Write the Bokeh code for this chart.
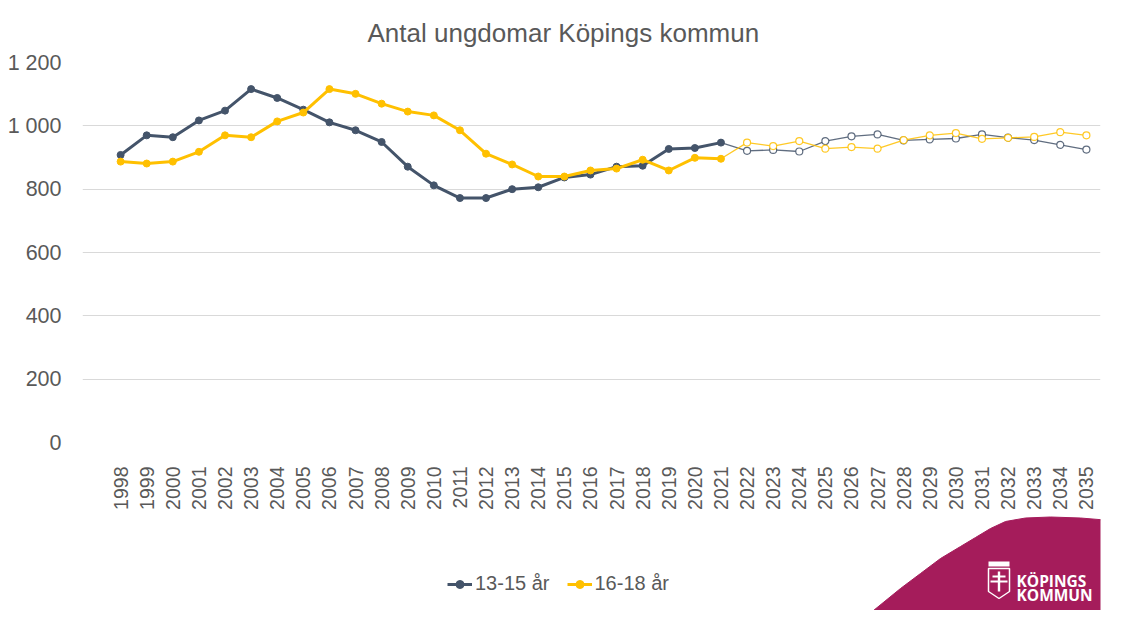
import math
from bokeh.plotting import figure
from bokeh.layouts import column
from bokeh.models import (ColumnDataSource, FixedTicker, CustomJSTickFormatter, Legend, LegendItem,
                          Label, Range1d)
from bokeh.embed import file_html
from bokeh.resources import INLINE

# ---- data ----
years_hist = list(range(1998, 2022))
years_prog = list(range(2022, 2036))
age_13_15_hist = [908, 970, 964, 1017, 1048, 1116, 1088, 1051, 1011, 986, 949, 871,
                  812, 772, 772, 800, 806, 837, 846, 871, 874, 927, 930, 947]
age_16_18_hist = [887, 881, 887, 918, 970, 964, 1014, 1042, 1116, 1101, 1070, 1045,
                  1033, 986, 912, 878, 840, 840, 859, 865, 893, 859, 899, 896]
age_13_15_prog = [921, 924, 919, 952, 967, 973, 954, 957, 960, 973, 963, 955, 940, 925]
age_16_18_prog = [947, 936, 952, 928, 933, 928, 955, 970, 977, 959, 962, 965, 980, 970]
series_names = ["13-15 år", "16-18 år"]
y_ticks = [0, 200, 400, 600, 800, 1000, 1200]
title_text = "Antal ungdomar Köpings kommun"

GRAY = "#44546A"
YELLOW = "#FFC000"
TXT = "#595959"
FONT = "Liberation Sans"
LOGO = "#A51C5B"

W = 1121
H1, H2 = 512, 98
FL, FR, FT, FB = 82, 1100, 60, 447   # frame edges in page pixels
p = figure(width=W, height=H1, output_backend="svg", toolbar_location=None,
           x_range=Range1d(1996.54, 2035.54), y_range=Range1d(0, 1200),
           min_border_left=FL, min_border_right=W - FR, min_border_top=FT,
           min_border_bottom=H1 - FB)
p.outline_line_color = None
p.background_fill_color = "white"
p.border_fill_color = "white"

p.title.text = title_text
p.title.align = "left"
p.title.offset = 367 - FL
p.title.standoff = 30
p.title.text_font = FONT
p.title.text_font_size = "26px"
p.title.text_font_style = "normal"
p.title.text_color = TXT

p.xgrid.grid_line_color = None
p.ygrid.grid_line_color = "#D9D9D9"
p.ygrid.grid_line_width = 1

p.yaxis.ticker = FixedTicker(ticks=y_ticks)
p.yaxis.formatter = CustomJSTickFormatter(code="return tick >= 1000 ? Math.floor(tick/1000) + ' ' + String(tick % 1000).padStart(3,'0') : String(tick);")
p.xaxis.ticker = FixedTicker(ticks=years_hist + years_prog)
p.xaxis.major_label_orientation = math.pi / 2
for ax in (p.xaxis, p.yaxis):
    ax.axis_line_color = None
    ax.major_tick_line_color = None
    ax.minor_tick_line_color = None
    ax.major_label_text_color = TXT
    ax.major_label_text_font = FONT
p.yaxis.major_label_text_font_size = "21.5px"
p.xaxis.major_label_text_font_size = "19.5px"
p.yaxis.major_label_standoff = 15
p.xaxis.major_label_standoff = 18

src_a = ColumnDataSource(dict(x=years_hist, y=age_13_15_hist))
src_b = ColumnDataSource(dict(x=years_hist, y=age_16_18_hist))
src_ap = ColumnDataSource(dict(x=years_hist[-1:] + years_prog, y=age_13_15_hist[-1:] + age_13_15_prog))
src_bp = ColumnDataSource(dict(x=years_hist[-1:] + years_prog, y=age_16_18_hist[-1:] + age_16_18_prog))
src_apm = ColumnDataSource(dict(x=years_prog, y=age_13_15_prog))
src_bpm = ColumnDataSource(dict(x=years_prog, y=age_16_18_prog))

# forecast (thin)
p.line("x", "y", source=src_ap, line_color=GRAY, line_width=1.3, line_alpha=0.85)
p.scatter("x", "y", source=src_apm, size=7, fill_color="white", line_color=GRAY, line_alpha=0.85, line_width=1.2)
p.line("x", "y", source=src_bp, line_color=YELLOW, line_width=1.3, line_alpha=0.85)
p.scatter("x", "y", source=src_bpm, size=7, fill_color="white", line_color=YELLOW, line_alpha=0.85, line_width=1.2)

p.line("x", "y", source=src_a, line_color=GRAY, line_width=3)
p.scatter("x", "y", source=src_a, size=7, fill_color=GRAY, line_color=GRAY)
p.line("x", "y", source=src_b, line_color=YELLOW, line_width=3)
p.scatter("x", "y", source=src_b, size=7, fill_color=YELLOW, line_color=YELLOW)

# ---- bottom strip: legend + logo (frame is aligned to the chart frame: page x FL..FR) ----
p2 = figure(width=W, height=H2, output_backend="svg", toolbar_location=None,
            x_range=Range1d(FL, FR), y_range=Range1d(0, H2),
            min_border=0, x_axis_type=None, y_axis_type=None)
p2.outline_line_color = None
p2.xgrid.grid_line_color = None
p2.ygrid.grid_line_color = None
p2.background_fill_color = "white"
p2.border_fill_color = "white"
TOP = H1 + H2


def yy(Y):
    return TOP - Y


# legend proxies (same series, lying outside this strip's visible range)
ka = p2.line("x", "y", source=src_a, line_color=GRAY, line_width=3)
kma = p2.scatter("x", "y", source=src_a, size=7, fill_color=GRAY, line_color=GRAY)
kb = p2.line("x", "y", source=src_b, line_color=YELLOW, line_width=3)
kmb = p2.scatter("x", "y", source=src_b, size=7, fill_color=YELLOW, line_color=YELLOW)
legend = Legend(items=[LegendItem(label=series_names[0], renderers=[ka, kma]),
                       LegendItem(label=series_names[1], renderers=[kb, kmb])],
                orientation="horizontal", location=(447 - FL, yy(595)),
                glyph_width=25, label_standoff=3, spacing=17, padding=0, margin=0,
                border_line_alpha=0, background_fill_alpha=0,
                label_text_font=FONT, label_text_font_size="20px", label_text_color=TXT)
p2.add_layout(legend, "center")

# logo (decoration)
logo_x = [873, 900, 920, 940, 960, 975, 990, 1005, 1025, 1050, 1080, 1110, 1121, 1121]
logo_y = [610, 588, 573, 558, 546, 537, 528, 521, 517.5, 516.5, 517.5, 520, 521, 610]
p2.patch(logo_x, [yy(v) for v in logo_y], fill_color=LOGO, line_color=LOGO)
p2.patch([988, 1009, 1009, 998.5, 988], [yy(v) for v in [568, 568, 591, 598, 591]],
         fill_alpha=0, line_color="white", line_width=1.5)
crest_l = [988, 997.3, 992, 990]
crest_r = [1009, 999.7, 1005, 1007]
crest_t = [561, 571, 575, 580]
crest_b = [566, 591, 577, 582]
p2.quad(left=crest_l, right=crest_r, top=[yy(v) for v in crest_t], bottom=[yy(v) for v in crest_b],
        fill_color="white", line_alpha=0)
p2.add_layout(Label(x=1016, y=yy(569), text="KÖPINGS",
                    text_align="left", text_baseline="top", text_font="Open Sans", text_font_style="bold",
                    text_font_size="15.5px", text_color="white"))
p2.add_layout(Label(x=1016, y=yy(583), text="KOMMUN",
                    text_align="left", text_baseline="top", text_font="Open Sans", text_font_style="bold",
                    text_font_size="15.5px", text_color="white"))

layout = column(p, p2, spacing=0)
open("out.html", "w").write(file_html(layout, INLINE))
